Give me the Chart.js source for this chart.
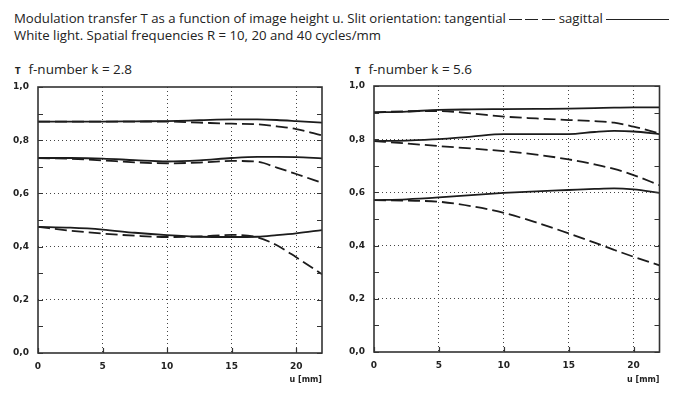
<!DOCTYPE html>
<html lang="en">

<head>
    <meta charset="UTF-8">
    <title>Modulation transfer T</title>
    <script src="https://cdn.jsdelivr.net/npm/chart.js@4.4.1/dist/chart.umd.min.js"></script>
    <style>
        body {
            margin: 0;
            width: 676px;
            height: 399px;
            background: #fff;
            position: relative;
            overflow: hidden;
            font-family: "Open Sans", sans-serif;
            color: #222;
        }

        .header {
            position: absolute;
            left: 14px;
            top: 10px;
            font-size: 13.2px;
            line-height: 17px;
            white-space: nowrap;
        }

        .dash, .solid {
            display: inline-block;
            height: 1.5px;
            vertical-align: middle;
        }

        .dash {
            width: 46px;
            background: repeating-linear-gradient(90deg, #222 0 13px, transparent 13px 16.5px);
        }

        .solid {
            width: 63px;
            background: #222;
        }

        .panel-title {
            position: absolute;
            top: 60px;
            font-size: 13.5px;
            white-space: nowrap;
        }

        .panel-title .t {
            font-family: "DejaVu Sans", sans-serif;
            font-weight: bold;
            font-size: 8px;
            margin-right: 8px;
        }

        canvas {
            position: absolute;
            top: 70px;
        }
    </style>
</head>

<body>
    <div class="header">
        Modulation transfer T as a function of image height u. Slit orientation: tangential <span class="dash"></span> sagittal <span class="solid"></span><br>
        White light. Spatial frequencies R = 10, 20 and 40 cycles/mm
    </div>

    <div class="panel-title" style="left: 15px;"><span class="t">T</span>f-number k = 2.8</div>
    <div class="panel-title" style="left: 355px;"><span class="t">T</span>f-number k = 5.6</div>

    <canvas id="chart28" width="338" height="329" style="left: 0;"></canvas>
    <canvas id="chart56" width="338" height="329" style="left: 338px;"></canvas>

    <script>
        // Bildhöhe u [mm]
        const u = [0, 2.5, 5, 7.5, 10, 12.5, 15, 17, 18.5, 20, 22];

        // k = 2.8
        const sag10_28 = [0.870, 0.870, 0.870, 0.871, 0.872, 0.875, 0.878, 0.878, 0.876, 0.872, 0.866];
        const tan10_28 = [0.870, 0.870, 0.870, 0.870, 0.870, 0.866, 0.862, 0.860, 0.852, 0.842, 0.818];
        const sag20_28 = [0.733, 0.733, 0.731, 0.725, 0.720, 0.724, 0.733, 0.737, 0.737, 0.736, 0.732];
        const tan20_28 = [0.733, 0.730, 0.724, 0.717, 0.713, 0.716, 0.722, 0.719, 0.697, 0.673, 0.640];
        const sag40_28 = [0.474, 0.471, 0.464, 0.452, 0.443, 0.437, 0.436, 0.437, 0.443, 0.450, 0.462];
        const tan40_28 = [0.474, 0.460, 0.449, 0.441, 0.436, 0.438, 0.444, 0.435, 0.405, 0.360, 0.296];

        // k = 5.6
        const sag10_56 = [0.901, 0.904, 0.910, 0.912, 0.913, 0.914, 0.915, 0.917, 0.919, 0.920, 0.920];
        const tan10_56 = [0.901, 0.905, 0.906, 0.897, 0.885, 0.878, 0.872, 0.868, 0.862, 0.847, 0.822];
        const sag20_56 = [0.793, 0.795, 0.800, 0.810, 0.819, 0.819, 0.819, 0.827, 0.831, 0.829, 0.819];
        const tan20_56 = [0.793, 0.784, 0.774, 0.765, 0.755, 0.742, 0.724, 0.705, 0.688, 0.665, 0.627];
        const sag40_56 = [0.571, 0.574, 0.581, 0.590, 0.598, 0.604, 0.609, 0.613, 0.615, 0.611, 0.598];
        const tan40_56 = [0.571, 0.569, 0.565, 0.548, 0.523, 0.487, 0.446, 0.411, 0.384, 0.358, 0.326];

        const xTicks = [0, 5, 10, 15, 20];
        const lineColor = '#1c1c1c';

        // Rahmen und kurze Striche nach innen
        const frameTicks = {
            id: 'frameTicks',
            afterDraw(chart) {
                const { ctx, chartArea: a, scales } = chart;
                ctx.save();
                ctx.strokeStyle = '#333';
                ctx.lineWidth = 1.6;
                ctx.strokeRect(a.left, a.top, a.right - a.left, a.bottom - a.top);
                ctx.lineWidth = 1.2;
                ctx.beginPath();
                scales.y.ticks.forEach(t => {
                    const y = Math.round(scales.y.getPixelForValue(t.value)) + 0.5;
                    ctx.moveTo(a.left, y); ctx.lineTo(a.left + 5, y);
                    ctx.moveTo(a.right - 5, y); ctx.lineTo(a.right, y);
                });
                scales.x.ticks.forEach(t => {
                    const x = Math.round(scales.x.getPixelForValue(t.value)) + 0.5;
                    ctx.moveTo(x, a.bottom); ctx.lineTo(x, a.bottom - 5);
                });
                ctx.stroke();
                ctx.restore();
            }
        };

        function series(values, dashed) {
            return {
                data: u.map((x, i) => ({ x: x, y: values[i] })),
                borderColor: lineColor,
                borderWidth: 1.8,
                borderDash: dashed ? [12, 5] : [],
                pointRadius: 0,
                cubicInterpolationMode: 'monotone',
                fill: false
            };
        }

        function makeChart(id, sets, yWidth, padRight, padTop, xHeight) {
            return new Chart(document.getElementById(id), {
                type: 'line',
                data: {
                    datasets: [
                        series(sets[0], false), series(sets[1], true),
                        series(sets[2], false), series(sets[3], true),
                        series(sets[4], false), series(sets[5], true)
                    ]
                },
                options: {
                    responsive: false,
                    animation: false,
                    layout: { padding: { top: padTop, right: padRight, left: 0, bottom: 14 } },
                    plugins: { legend: { display: false }, tooltip: { enabled: false } },
                    scales: {
                        x: {
                            type: 'linear',
                            min: 0,
                            max: 22,
                            afterFit: s => { s.height = xHeight; },
                            afterBuildTicks: s => { s.ticks = xTicks.map(v => ({ value: v })); },
                            ticks: {
                                padding: 8,
                                color: '#222',
                                font: { family: 'DejaVu Sans', weight: 'bold', size: 9 }
                            },
                            grid: {
                                drawTicks: false,
                                lineWidth: 1,
                                color: c => (c.tick && c.tick.value > 0 ? '#444' : 'transparent')
                            },
                            border: { display: false, dash: [1, 3] },
                            title: {
                                display: true,
                                text: 'u [mm]',
                                align: 'end',
                                color: '#222',
                                padding: { top: 2, bottom: 0 },
                                font: { family: 'DejaVu Sans', weight: 'bold', size: 8 }
                            }
                        },
                        y: {
                            min: 0,
                            max: 1,
                            afterFit: s => { s.width = yWidth; },
                            ticks: {
                                stepSize: 0.1,
                                autoSkip: false,
                                padding: 9,
                                color: '#222',
                                font: { family: 'DejaVu Sans', weight: 'bold', size: 9 },
                                callback: v => {
                                    const n = Math.round(v * 10);
                                    return n % 2 === 0 ? (n / 10).toFixed(1).replace('.', ',') : '';
                                }
                            },
                            grid: {
                                drawTicks: false,
                                lineWidth: 1,
                                color: c => {
                                    const n = c.tick ? Math.round(c.tick.value * 10) : 0;
                                    return n > 0 && n < 10 && n % 2 === 0 ? '#444' : 'transparent';
                                }
                            },
                            border: { display: false, dash: [1, 3] }
                        }
                    }
                },
                plugins: [frameTicks]
            });
        }

        makeChart('chart28', [sag10_28, tan10_28, sag20_28, tan20_28, sag40_28, tan40_28], 38, 16, 17, 32);
        makeChart('chart56', [sag10_56, tan10_56, sag20_56, tan20_56, sag40_56, tan40_56], 36, 16.5, 16, 33);
    </script>
</body>

</html>
